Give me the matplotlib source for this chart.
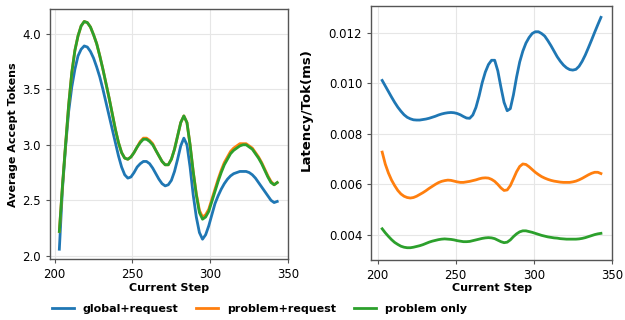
import matplotlib
matplotlib.use("Agg")
import matplotlib.pyplot as plt

# ===== data (every 2 steps) =====
steps = list(range(203, 344, 2))

# average accept tokens
tok_global_req = [2.06, 2.60, 2.98, 3.30, 3.52, 3.68, 3.80, 3.86, 3.89, 3.88,
                  3.84, 3.78, 3.70, 3.61, 3.50, 3.38, 3.26, 3.14, 3.02, 2.90,
                  2.80, 2.73, 2.70, 2.71, 2.75, 2.80, 2.83, 2.85, 2.85, 2.83,
                  2.79, 2.74, 2.69, 2.65, 2.63, 2.64, 2.68, 2.76, 2.87, 2.99,
                  3.06, 3.00, 2.80, 2.55, 2.35, 2.21, 2.15, 2.19, 2.27, 2.37,
                  2.47, 2.54, 2.60, 2.65, 2.69, 2.72, 2.74, 2.75, 2.76, 2.76,
                  2.76, 2.75, 2.73, 2.70, 2.66, 2.62, 2.58, 2.54, 2.50, 2.48,
                  2.49]
tok_problem_req = [2.22, 2.63, 3.00, 3.36, 3.65, 3.85, 3.98, 4.07, 4.11, 4.10,
                   4.06, 3.99, 3.91, 3.80, 3.68, 3.55, 3.42, 3.28, 3.14, 3.02,
                   2.93, 2.88, 2.87, 2.89, 2.93, 2.98, 3.03, 3.06, 3.06, 3.04,
                   3.01, 2.95, 2.90, 2.85, 2.82, 2.82, 2.87, 2.96, 3.08, 3.20,
                   3.26, 3.20, 3.00, 2.76, 2.56, 2.41, 2.35, 2.37, 2.42, 2.51,
                   2.60, 2.69, 2.77, 2.84, 2.89, 2.94, 2.97, 2.99, 3.01, 3.01,
                   3.01, 2.99, 2.97, 2.93, 2.89, 2.84, 2.78, 2.72, 2.67, 2.64,
                   2.66]
tok_problem_only = [2.22, 2.63, 3.00, 3.36, 3.65, 3.85, 3.98, 4.07, 4.11, 4.10,
                    4.06, 3.99, 3.91, 3.80, 3.68, 3.55, 3.42, 3.28, 3.14, 3.02,
                    2.93, 2.88, 2.87, 2.89, 2.93, 2.98, 3.02, 3.05, 3.05, 3.03,
                    3.00, 2.95, 2.90, 2.85, 2.82, 2.82, 2.87, 2.96, 3.08, 3.20,
                    3.26, 3.20, 3.00, 2.76, 2.55, 2.39, 2.33, 2.35, 2.40, 2.49,
                    2.58, 2.67, 2.75, 2.82, 2.87, 2.92, 2.95, 2.97, 2.99, 3.00,
                    3.00, 2.98, 2.96, 2.92, 2.88, 2.83, 2.77, 2.71, 2.66, 2.64,
                    2.66]

# latency per token (ms)
lat_global_req = [0.01012, 0.00990, 0.00968, 0.00946, 0.00925, 0.00906, 0.00890, 0.00876, 0.00866, 0.00860,
                  0.00856, 0.00855, 0.00855, 0.00857, 0.00859, 0.00862, 0.00866, 0.00870, 0.00875, 0.00879,
                  0.00882, 0.00884, 0.00885, 0.00884, 0.00881, 0.00876, 0.00869, 0.00863, 0.00862, 0.00875,
                  0.00905, 0.00950, 0.01003, 0.01045, 0.01075, 0.01092, 0.01092, 0.01050, 0.00985, 0.00925,
                  0.00892, 0.00900, 0.00955, 0.01025, 0.01085, 0.01128, 0.01160, 0.01182, 0.01198, 0.01205,
                  0.01205, 0.01198, 0.01188, 0.01170, 0.01150, 0.01128, 0.01106, 0.01088, 0.01073, 0.01062,
                  0.01055, 0.01053, 0.01056, 0.01068, 0.01088, 0.01113, 0.01142, 0.01172, 0.01203, 0.01233,
                  0.01262]
lat_problem_req = [0.00728, 0.00680, 0.00645, 0.00617, 0.00595, 0.00576, 0.00562, 0.00553, 0.00548, 0.00546,
                   0.00548, 0.00553, 0.00560, 0.00567, 0.00575, 0.00584, 0.00592, 0.00600, 0.00607, 0.00612,
                   0.00615, 0.00617, 0.00616, 0.00613, 0.00610, 0.00608, 0.00608, 0.00610, 0.00612, 0.00615,
                   0.00618, 0.00622, 0.00625, 0.00626, 0.00625, 0.00620, 0.00612, 0.00600, 0.00586, 0.00576,
                   0.00578, 0.00595, 0.00622, 0.00650, 0.00671, 0.00681, 0.00679, 0.00670, 0.00659, 0.00648,
                   0.00639, 0.00631, 0.00625, 0.00620, 0.00616, 0.00613, 0.00611, 0.00609, 0.00608, 0.00608,
                   0.00608, 0.00610, 0.00613, 0.00618, 0.00624, 0.00631, 0.00638, 0.00644, 0.00648, 0.00648,
                   0.00643]
lat_problem_only = [0.00424, 0.00408, 0.00394, 0.00381, 0.00370, 0.00362, 0.00355, 0.00351, 0.00349, 0.00349,
                    0.00351, 0.00354, 0.00357, 0.00361, 0.00366, 0.00371, 0.00375, 0.00378, 0.00381, 0.00383,
                    0.00384, 0.00383, 0.00382, 0.00380, 0.00377, 0.00375, 0.00373, 0.00373, 0.00374, 0.00377,
                    0.00380, 0.00383, 0.00386, 0.00388, 0.00389, 0.00388, 0.00385, 0.00379, 0.00373, 0.00369,
                    0.00371, 0.00380, 0.00393, 0.00404, 0.00412, 0.00416, 0.00416, 0.00413, 0.00410, 0.00406,
                    0.00402, 0.00398, 0.00395, 0.00392, 0.00390, 0.00388, 0.00387, 0.00385, 0.00384, 0.00383,
                    0.00383, 0.00383, 0.00383, 0.00384, 0.00386, 0.00389, 0.00393, 0.00397, 0.00401, 0.00404,
                    0.00406]

labels = ["global+request", "problem+request", "problem only"]
colors = ["#1f77b4", "#ff7f0e", "#2ca02c"]

fig = plt.figure(figsize=(6.25, 3.2), dpi=100)
ax1 = fig.add_axes([0.080, 0.190, 0.381, 0.781])
ax2 = fig.add_axes([0.594, 0.188, 0.385, 0.794])

for ax in (ax1, ax2):
    ax.grid(True, color="#e6e6e6", linewidth=0.8)
    ax.set_axisbelow(True)
    for sp in ax.spines.values():
        sp.set_color("#555555")
        sp.set_linewidth(1.0)
    ax.tick_params(labelsize=8.5, length=3, color="#555555")
    ax.set_xticks([200, 250, 300, 350])
    ax.set_xlabel("Current Step", fontsize=8, fontweight="bold", labelpad=1)

# ===== 左: Average Accept Tokens =====
for vals, lab, c in zip([tok_global_req, tok_problem_req, tok_problem_only], labels, colors):
    ax1.plot(steps, vals, color=c, lw=2, label=lab)
ax1.set_xlim(197, 350)
ax1.set_ylim(1.97, 4.22)
ax1.set_yticks([2.0, 2.5, 3.0, 3.5, 4.0])
ax1.set_ylabel("Average Accept Tokens", fontsize=8, fontweight="bold", labelpad=3)

# ===== 右: Latency/Tok =====
for vals, lab, c in zip([lat_global_req, lat_problem_req, lat_problem_only], labels, colors):
    ax2.plot(steps, vals, color=c, lw=2, label=lab)
ax2.set_xlim(196, 350)
ax2.set_ylim(0.00301, 0.01308)
ax2.set_yticks([0.004, 0.006, 0.008, 0.010, 0.012])
ax2.set_yticklabels(["0.004", "0.006", "0.008", "0.010", "0.012"])
ax2.set_ylabel("Latency/Tok(ms)", fontsize=9.5, fontweight="bold")
ax2.yaxis.set_label_coords(-0.245, 0.59)

handles, labs = ax1.get_legend_handles_labels()
fig.legend(handles, labs, loc="center", bbox_to_anchor=(0.415, 0.035), ncol=3,
           frameon=False, prop={"size": 8, "weight": "bold"},
           handlelength=2.0, handletextpad=0.8, columnspacing=1.6)

fig.savefig("out.png", dpi=100)
